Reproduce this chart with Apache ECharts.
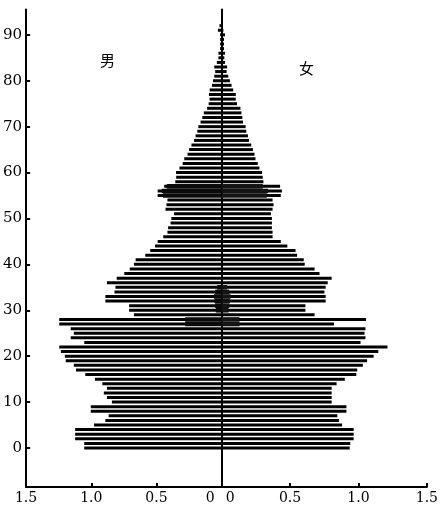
<!DOCTYPE html>
<html><head><meta charset="utf-8">
<script src="https://cdn.jsdelivr.net/npm/echarts@6/dist/echarts.min.js"></script>
<style>html,body{margin:0;padding:0;background:#fff}#c{width:441px;height:512px}</style>
</head><body><div id="c"></div>
<script>
// ages 0..92, one bar per single year of age
const firstAge = 0;
const male = [
1.054,1.054,1.124,1.124,1.124,0.979,0.892,0.867,1.004,1.004,
0.842,0.880,0.904,0.880,0.915,0.972,1.046,1.117,1.134,1.196,
1.203,1.233,1.246,1.054,1.158,1.134,1.158,1.246,1.246,0.673,
0.710,0.710,0.892,0.892,0.822,0.815,0.880,0.805,0.747,0.705,
0.673,0.660,0.586,0.548,0.511,0.491,0.448,0.416,0.411,0.392,
0.386,0.366,0.431,0.424,0.416,0.491,0.491,0.441,0.356,0.349,
0.350,0.324,0.299,0.287,0.262,0.250,0.232,0.212,0.200,0.187,
0.179,0.162,0.149,0.137,0.112,0.100,0.093,0.098,0.092,0.075,
0.067,0.057,0.050,0.057,0.037,0.025,0.025,0.012,0.012,0.012,
0.012,0.029,0.017];
const female = [
0.936,0.940,0.965,0.965,0.965,0.880,0.857,0.845,0.912,0.912,
0.804,0.804,0.804,0.804,0.840,0.900,0.984,0.991,1.032,1.063,
1.111,1.145,1.212,1.015,1.051,1.044,1.051,0.821,1.055,0.679,
0.612,0.612,0.760,0.760,0.751,0.760,0.775,0.804,0.715,0.679,
0.607,0.600,0.551,0.540,0.480,0.432,0.372,0.372,0.367,0.367,
0.367,0.360,0.372,0.379,0.372,0.432,0.440,0.427,0.305,0.300,
0.295,0.276,0.264,0.247,0.240,0.228,0.216,0.199,0.192,0.180,
0.175,0.156,0.151,0.144,0.137,0.112,0.103,0.103,0.084,0.072,
0.060,0.048,0.036,0.040,0.024,0.019,0.024,0.017,0.017,0.017,
0.024,0.012,0.005];
// dark smudges visible in the printed figure
const blobAges   = [27,28,30,31,32,33,34,35,55,56,57];
const blobMale   = [0.28,0.28,0.045,0.05,0.055,0.06,0.05,0.035,0.45,0.46,0.42];
const blobFemale = [0.13,0.13,0.05,0.055,0.06,0.065,0.055,0.04,0.33,0.34,0.30];
const yTicks = [0,10,20,30,40,50,60,70,80,90];
const xTicks = [0,0.5,1.0,1.5];
const axisAgeMin = -8, axisAgeMax = 95;
const maleLabel = '男', femaleLabel = '女';

const cats = [];
for (let a = axisAgeMin; a <= axisAgeMax; a++) cats.push(String(a));
function byAge(arr, start) {
  return cats.map(c => { const i = Number(c) - start; return (i >= 0 && i < arr.length) ? arr[i] : null; });
}
function byList(ages, vals) {
  return cats.map(c => { const i = ages.indexOf(Number(c)); return i >= 0 ? vals[i] : null; });
}
const isTick = (i, v) => yTicks.indexOf(Number(v)) >= 0;
const FONT = 'DejaVu Serif';
const xMax = xTicks[xTicks.length - 1];
const xInt = xTicks[1] - xTicks[0];

function xAxis(grid, inverse, zeroPad) {
  return {
    gridIndex: grid, type: 'value', min: 0, max: xMax, interval: xInt, inverse: inverse,
    axisLine: { show: true, onZero: false, lineStyle: { color: '#000', width: 2 } },
    axisTick: { show: true, inside: true, length: 4, lineStyle: { color: '#000', width: 2 } },
    splitLine: { show: false },
    axisLabel: {
      margin: 4, color: '#000', fontFamily: FONT, fontSize: 14,
      formatter: v => v === 0 ? '{z|0}' : v.toFixed(1),
      rich: { z: { padding: zeroPad, fontFamily: FONT, fontSize: 14, color: '#000' } }
    }
  };
}

const chart = echarts.init(document.getElementById('c'), null, { renderer: 'canvas' });
chart.setOption({
  animation: false,
  backgroundColor: '#fff',
  grid: [
    { left: 21, right: 219.3, top: 9.6, bottom: 25 },
    { left: 221.7, right: 11, top: 9.6, bottom: 25 }
  ],
  xAxis: [ xAxis(0, true, [0, 23, 0, 0]), xAxis(1, false, [0, 0, 0, 17]) ],
  yAxis: [
    { gridIndex: 0, type: 'category', data: cats, boundaryGap: true,
      axisLine: { show: true, onZero: false, lineStyle: { color: '#000', width: 2 } },
      axisTick: { show: true, inside: true, length: 4, alignWithLabel: true, interval: isTick, lineStyle: { color: '#000', width: 2 } },
      axisLabel: { interval: isTick, margin: 4, color: '#000', fontFamily: FONT, fontSize: 15 },
      splitLine: { show: false } },
    { gridIndex: 1, type: 'category', data: cats, boundaryGap: true,
      axisLine: { show: true, onZero: false, lineStyle: { color: '#000', width: 2 } },
      axisTick: { show: false }, axisLabel: { show: false }, splitLine: { show: false } },
    { gridIndex: 0, type: 'category', data: cats, show: false },
    { gridIndex: 1, type: 'category', data: cats, show: false }
  ],
  series: [
    { name: maleLabel, type: 'bar', xAxisIndex: 0, yAxisIndex: 0, data: byAge(male, firstAge), barWidth: 3, itemStyle: { color: '#000' } },
    { name: femaleLabel, type: 'bar', xAxisIndex: 1, yAxisIndex: 1, data: byAge(female, firstAge), barWidth: 3, itemStyle: { color: '#000' } },
    { name: 'm2', type: 'bar', xAxisIndex: 0, yAxisIndex: 2, data: byList(blobAges, blobMale), barWidth: '100%', itemStyle: { color: '#0a0a0a' } },
    { name: 'f2', type: 'bar', xAxisIndex: 1, yAxisIndex: 3, data: byList(blobAges, blobFemale), barWidth: '100%', itemStyle: { color: '#141414' } }
  ],
  graphic: [
    { type: 'text', left: 100, top: 53, style: { text: maleLabel, font: '15px "Noto Sans CJK SC"', fill: '#000' } },
    { type: 'text', left: 299, top: 61, style: { text: femaleLabel, font: '15px "Noto Sans CJK SC"', fill: '#000' } }
  ]
});
</script></body></html>
